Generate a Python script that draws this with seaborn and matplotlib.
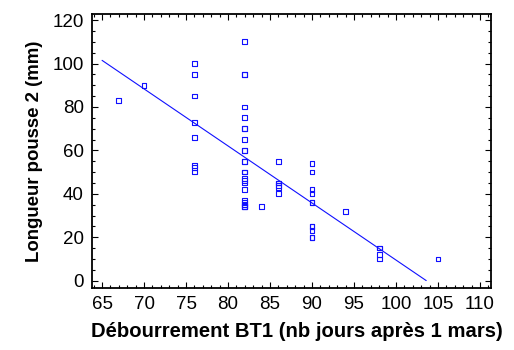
import numpy as np
import pandas as pd
import seaborn as sns
import matplotlib
matplotlib.use('Agg')
import matplotlib.pyplot as plt
from matplotlib.ticker import MultipleLocator

# budburst day (days after 1 March) and shoot length (mm)
jours = [67, 70,
         76, 76, 76, 76, 76, 76, 76, 76,
         82, 82, 82, 82, 82, 82, 82, 82, 82, 82, 82, 82, 82, 82, 82, 82, 82,
         82, 82, 82, 82, 82, 82, 82,
         84,
         86, 86, 86, 86, 86, 86,
         90, 90, 90, 90, 90, 90, 90, 90, 90, 90, 90,
         94,
         98, 98, 98, 98,
         105]
longueur = [83, 90,
            100, 95, 85, 73, 66, 53, 52, 50,
            110, 95, 95, 80, 75, 70, 70, 65, 60, 60, 55, 55, 50, 50, 47, 46, 45,
            42, 37, 36, 35, 34, 34, 34,
            34,
            55, 45, 45, 44, 43, 40,
            54, 50, 42, 40, 36, 36, 25, 25, 23, 20, 20,
            32,
            15, 15, 12, 10,
            10]

# fitted line
fit_intercept = 272.2
fit_slope = -2.627
fit_range = [65, 103.6]

xticks = [65, 70, 75, 80, 85, 90, 95, 100, 105, 110]
yticks = [0, 20, 40, 60, 80, 100, 120]

df = pd.DataFrame({'x': jours, 'y': longueur})
fit_x = np.array(fit_range)
fit = pd.DataFrame({'x': fit_x, 'y': fit_intercept + fit_slope * fit_x})

sns.set_style('ticks')
plt.rcParams['font.family'] = ['Liberation Sans', 'DejaVu Sans']
plt.rcParams['text.color'] = 'black'
plt.rcParams['axes.labelcolor'] = 'black'
plt.rcParams['xtick.color'] = 'black'
plt.rcParams['ytick.color'] = 'black'

fig, ax = plt.subplots(figsize=(5.14, 3.5), dpi=100)
fig.subplots_adjust(left=0.179, right=0.955, top=0.96, bottom=0.177)

blue = '#1010ff'
sns.lineplot(data=fit, x='x', y='y', ax=ax, color=blue, lw=0.8)
sns.scatterplot(data=df, x='x', y='y', ax=ax, marker='s', s=12,
                facecolors='none', edgecolors=blue, linewidths=0.8)

ax.set_xlim(63.8, 111.3)
ax.set_ylim(-3.4, 122.8)
ax.set_xticks(xticks)
ax.set_yticks(yticks)
ax.xaxis.set_minor_locator(MultipleLocator(1))
ax.yaxis.set_minor_locator(MultipleLocator(5))
ax.tick_params(which='both', direction='in', top=True, right=True,
               width=0.8, labelsize=13.5, pad=6)
ax.tick_params(which='major', length=4)
ax.tick_params(which='minor', length=2.2)
for sp in ax.spines.values():
  sp.set_linewidth(1.3)
  sp.set_color('black')

ax.set_xlabel('Débourrement BT1 (nb jours après 1 mars)', fontsize=14.6,
              fontweight='bold')
ax.set_ylabel('Longueur pousse 2 (mm)', fontsize=13.4,
              fontweight='bold', labelpad=7)
ax.xaxis.set_label_coords(0.513, -0.125)

fig.savefig('out.png', dpi=100)
